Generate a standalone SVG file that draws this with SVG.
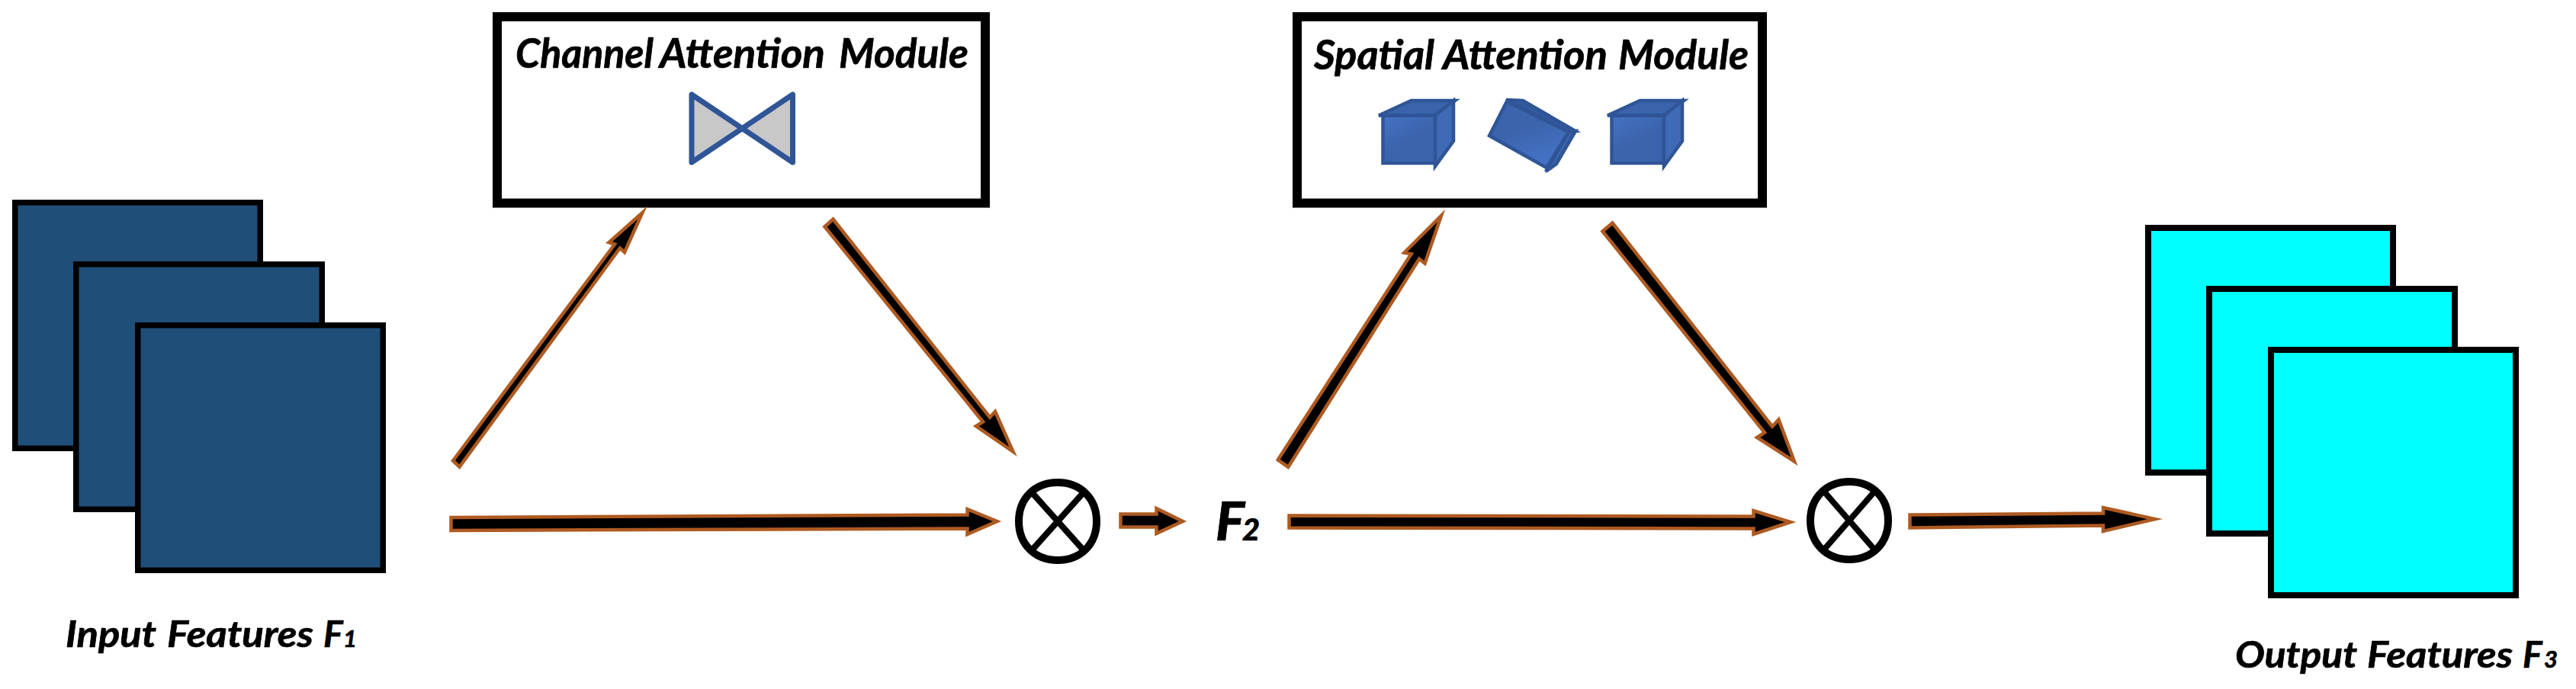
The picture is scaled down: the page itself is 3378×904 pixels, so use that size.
<svg xmlns="http://www.w3.org/2000/svg" width="3378" height="904" viewBox="0 0 3378 904">
<defs>
<style>
text{font-family:"Lato","Carlito","Liberation Sans",sans-serif;font-weight:700;font-style:italic;fill:#000;stroke:#000;stroke-width:0.7}
.modt{font-size:53px}
.capt{font-size:48px}
.sub{font-size:31px}
.box{fill:#fff;stroke:#000;stroke-width:12}
.fin{fill:#1f4e79;stroke:#000;stroke-width:7.5}
.fout{fill:#00ffff;stroke:#000;stroke-width:8}
.arr{fill:#000;stroke:#ae5a21;stroke-width:4.5;stroke-miterlimit:12;stroke-linejoin:miter}
.mul{fill:none;stroke:#000;stroke-width:10}
.mulx{fill:none;stroke:#000;stroke-width:8}
.cube{stroke:#2f5597;stroke-width:4.5;stroke-linejoin:miter}
</style>
<linearGradient id="cf" x1="0" y1="0" x2="0.6" y2="1">
<stop offset="0" stop-color="#4472c4"/><stop offset="0.6" stop-color="#3b64ac"/><stop offset="1" stop-color="#3b64ac"/>
</linearGradient>
<linearGradient id="cm" x1="0" y1="0" x2="0.4" y2="1">
<stop offset="0" stop-color="#3b64ac"/><stop offset="0.5" stop-color="#3b64ac"/><stop offset="1" stop-color="#4472c4"/>
</linearGradient>
<g id="cube">
<path class="cube" fill="url(#cf)" d="M1813.5 151.5H1882V214H1813.5Z"/>
<path class="cube" fill="#3a63ab" d="M1808 151.5L1850.5 132H1908L1882 151.5Z"/>
<path class="cube" fill="#3f6ab6" d="M1882 151.5L1906 132V185L1882 218Z"/>
</g>
<path id="mulmark" d="M0 -51C30 -51 51 -30 51 0C51 30 30 51 0 51C-30 51 -51 30 -51 0C-51 -30 -30 -51 0 -51Z"/>
</defs>
<rect width="3378" height="904" fill="#fff"/>

<g id="input-features">
<rect class="fin" x="19.75" y="265.75" width="321.5" height="322.5"/>
<rect class="fin" x="99.75" y="346.75" width="322.5" height="321.5"/>
<rect class="fin" x="180.75" y="426.75" width="321.5" height="321.5"/>
<text y="849" class="capt"><tspan x="86" textLength="119" lengthAdjust="spacingAndGlyphs">Input</tspan> <tspan x="219" textLength="192" lengthAdjust="spacingAndGlyphs">Features</tspan> <tspan x="424">F</tspan><tspan x="450" class="sub">1</tspan></text>
</g>

<g id="channel-attention">
<rect class="box" x="652" y="22" width="640" height="244.5"/>
<text y="89" class="modt"><tspan x="676" textLength="181" lengthAdjust="spacingAndGlyphs">Channel</tspan> <tspan x="865" textLength="217" lengthAdjust="spacingAndGlyphs">Attention</tspan> <tspan x="1100" textLength="170" lengthAdjust="spacingAndGlyphs">Module</tspan></text>
<path d="M907 124V213L1039.5 124V213Z" fill="#c8c8c8" stroke="#2f5597" stroke-width="7" stroke-linejoin="round"/>
</g>

<g id="multiply-1">
<use href="#mulmark" x="1387" y="684" class="mul"/>
<path class="mulx" d="M1353 646L1421 722M1421 646L1353 722"/>
</g>

<g id="f2">
<text x="1594" y="709" style="font-size:71px;font-weight:900" textLength="38" lengthAdjust="spacingAndGlyphs">F</text>
<text x="1629" y="709" style="font-size:39px;font-weight:900" textLength="23" lengthAdjust="spacingAndGlyphs">2</text>
</g>

<g id="spatial-attention">
<rect class="box" x="1701" y="22" width="610" height="244.5"/>
<text y="91" class="modt"><tspan x="1723" textLength="158" lengthAdjust="spacingAndGlyphs">Spatial</tspan> <tspan x="1892" textLength="216" lengthAdjust="spacingAndGlyphs">Attention</tspan> <tspan x="2122" textLength="171" lengthAdjust="spacingAndGlyphs">Module</tspan></text>
<use href="#cube"/>
<g>
<path class="cube" fill="#345a9e" d="M1975 131L1997 132L2066 172L2057 173Z"/>
<path class="cube" fill="#3a63ab" d="M2057 173L2066 172L2041 215L2027 225Z"/>
<path class="cube" fill="url(#cm)" d="M1976 133L2057 173L2028 220L1953 178Z"/>
</g>
<use href="#cube" x="300"/>
</g>

<g id="multiply-2">
<use href="#mulmark" x="2425" y="683" class="mul"/>
<path class="mulx" d="M2392 645L2458 721M2458 645L2392 721"/>
</g>

<g id="output-features">
<rect class="fout" x="2817" y="299" width="321" height="321"/>
<rect class="fout" x="2897" y="379" width="322" height="321"/>
<rect class="fout" x="2978" y="459" width="321" height="322"/>
<text y="876" class="capt"><tspan x="2931" textLength="160" lengthAdjust="spacingAndGlyphs">Output</tspan> <tspan x="3104" textLength="191" lengthAdjust="spacingAndGlyphs">Features</tspan> <tspan x="3308">F</tspan><tspan x="3336" class="sub">3</tspan></text>
</g>

<g id="connectors">
<polygon class="arr" points="594,604.5 806,320.5 798.5,318 842.5,279 819,331 813,325.5 602.5,612.5"/>
<polygon class="arr" points="1081.5,297.5 1092.5,287.5 1298,547.5 1305,540 1328.5,592.5 1280,559 1289,553.5"/>
<polygon class="arr" points="591.5,679 1268.5,675.5 1268.5,668 1307.5,684 1268.5,701 1268.5,693.5 591.5,696"/>
<polygon class="arr" points="1469.5,674.5 1516.5,674.5 1516.5,667 1551,684 1516.5,700 1516.5,691.5 1469.5,691.5"/>
<polygon class="arr" points="1675.8,603.3 1850.6,333.3 1841.5,331.5 1890,283 1868.5,345.5 1861,339.7 1689.3,612.7"/>
<polygon class="arr" points="2101.5,303.5 2114.5,292.5 2324,559.5 2332.5,550.5 2353,605.5 2304,574 2314,567.5"/>
<polygon class="arr" points="1690.5,676.5 2299.5,677.5 2299.5,670 2348,685 2299.5,701 2299.5,693.5 1690.5,692.5"/>
<polygon class="arr" points="2504.5,675.5 2758,673.5 2758,666 2826,681 2758,697 2758,689.5 2504.5,692.5"/>
</g>
</svg>
